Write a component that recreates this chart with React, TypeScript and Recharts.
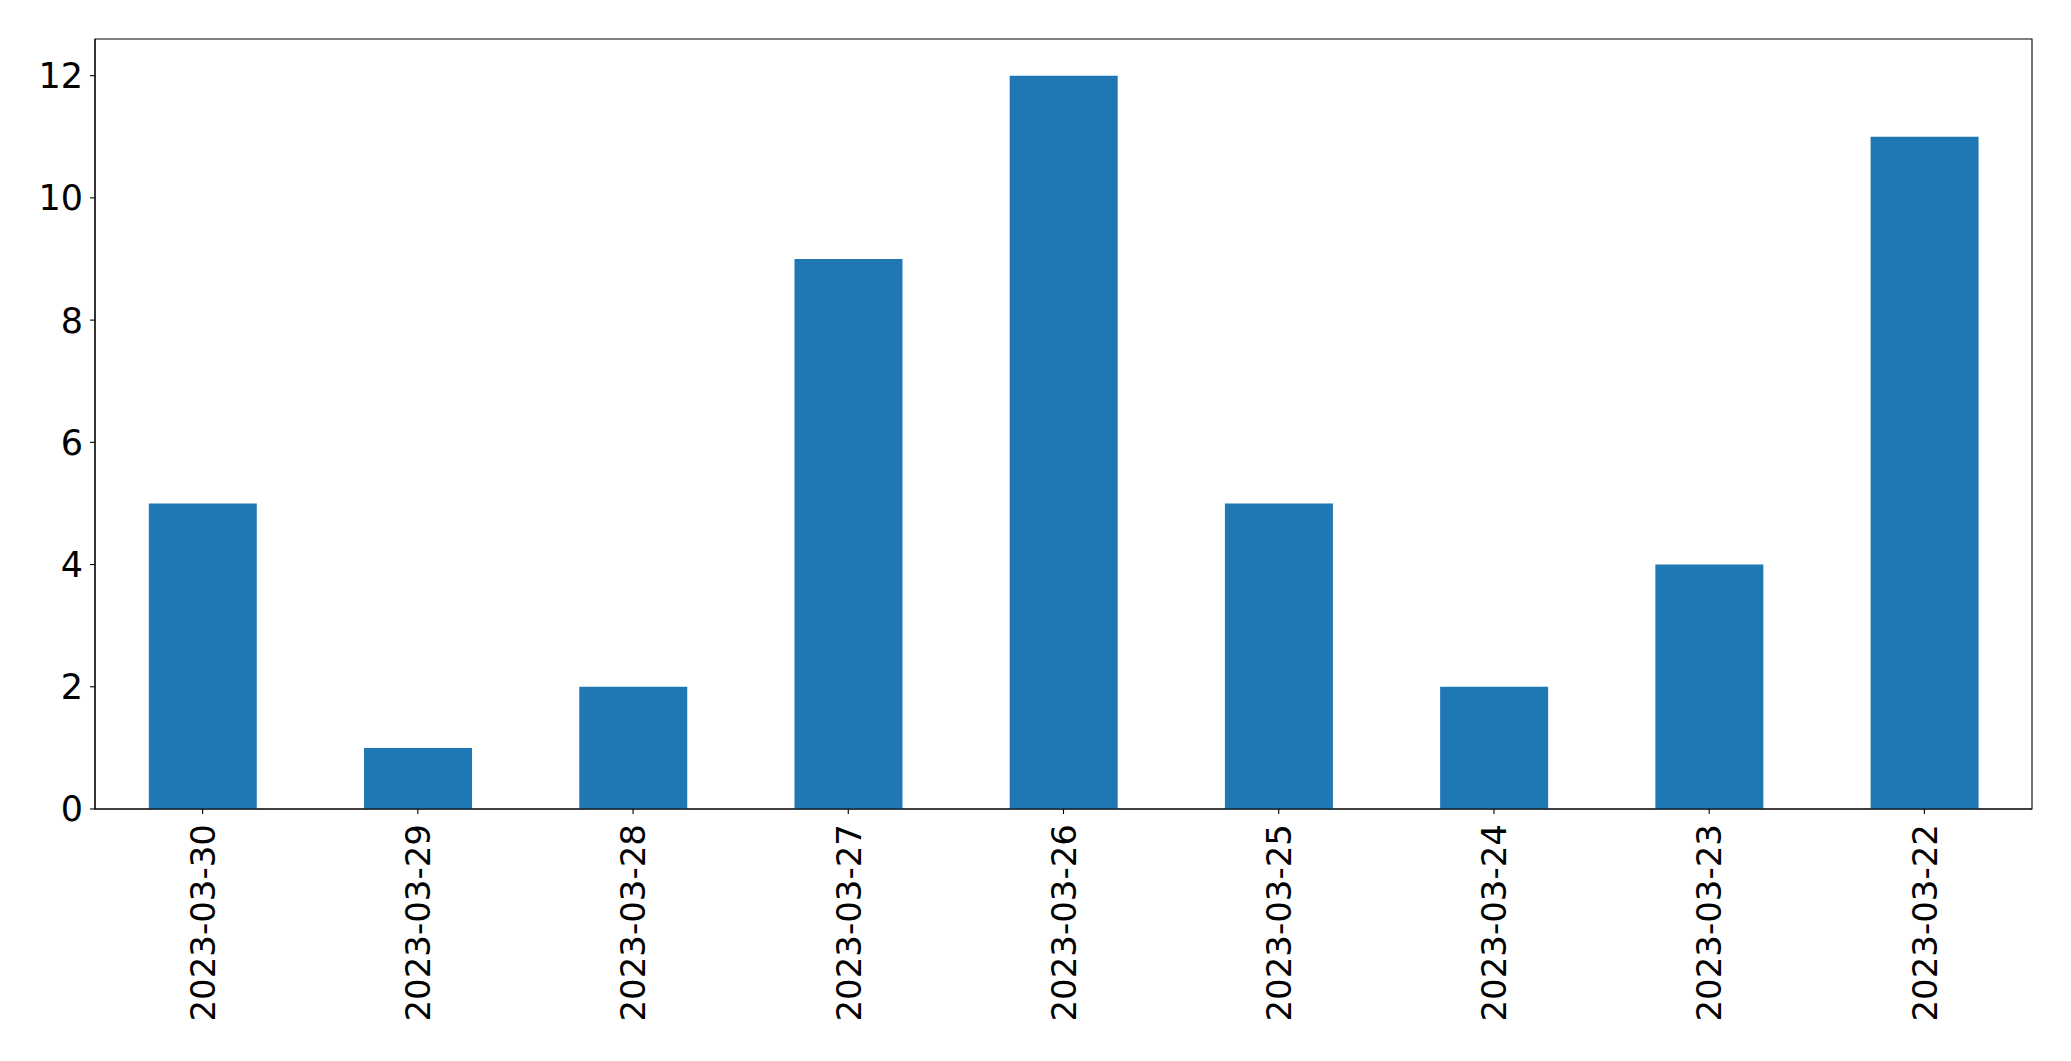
import React from "react";
import { BarChart, Bar, XAxis, YAxis, ReferenceArea } from "recharts";

const categories = [
  "2023-03-30",
  "2023-03-29",
  "2023-03-28",
  "2023-03-27",
  "2023-03-26",
  "2023-03-25",
  "2023-03-24",
  "2023-03-23",
  "2023-03-22",
];
const counts = [5, 1, 2, 9, 12, 5, 2, 4, 11];
const yTicks = [0, 2, 4, 6, 8, 10, 12];
const yMax = 12.6;

const data = categories.map((c, i) => ({ date: c, value: counts[i] }));

const FONT = "'DejaVu Sans', sans-serif";

const XTick = (props: any) => {
  const { x, y, payload } = props;
  return (
    <text
      x={x}
      y={y}
      transform={`rotate(-90, ${x}, ${y})`}
      textAnchor="end"
      dy="0.36em"
      fontFamily={FONT}
      fontSize={34}
      fill="#000"
    >
      {payload.value}
    </text>
  );
};

export default function App() {
  return (
    <div style={{ position: "absolute", left: 0, top: 0, background: "#fff" }}>
      <BarChart
        width={2071}
        height={1061}
        data={data}
        margin={{ top: 39, right: 39, left: 0, bottom: 0 }}
        barCategoryGap="25%"
      >
        <XAxis
          dataKey="date"
          height={252}
          tickSize={5}
          tickMargin={10}
          interval={0}
          stroke="#000"
          tick={<XTick />}
          axisLine={{ stroke: "#000", strokeWidth: 1.1 }}
          tickLine={{ stroke: "#000", strokeWidth: 1.1 }}
        />
        <YAxis
          width={95}
          domain={[0, yMax]}
          ticks={yTicks}
          tickSize={5}
          tickMargin={7}
          interval={0}
          stroke="#000"
          tick={{ fontFamily: FONT, fontSize: 35, fill: "#000" }}
          axisLine={{ stroke: "#000", strokeWidth: 1.1 }}
          tickLine={{ stroke: "#000", strokeWidth: 1.1 }}
        />
        <Bar dataKey="value" fill="#1f77b4" isAnimationActive={false} />
        <ReferenceArea
          y1={0}
          y2={yMax}
          fill="none"
          fillOpacity={0}
          stroke="#000"
          strokeOpacity={1}
          strokeWidth={1.1}
          ifOverflow="visible"
        />
      </BarChart>
    </div>
  );
}
